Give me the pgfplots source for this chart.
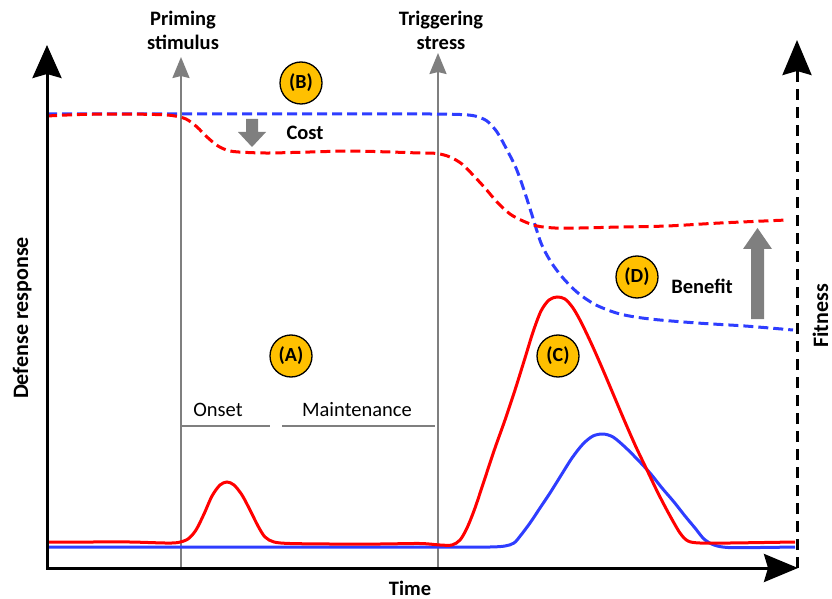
\documentclass[border=0pt]{standalone}
\usepackage{fontspec}
\setmainfont{Carlito}
\usepackage{pgfplots}
\pgfplotsset{compat=1.18}
\usetikzlibrary{arrows.meta}
\definecolor{dred}{HTML}{FF0000}
\definecolor{dblue}{HTML}{2E3DFF}
\definecolor{lgray}{HTML}{7F7F7F}
\definecolor{gold}{HTML}{FFC000}

\begin{document}
\begin{tikzpicture}
\begin{axis}[
    scale only axis,
    width=832pt, height=597pt,
    xmin=0, xmax=832, ymin=0, ymax=597,
    y dir=reverse,
    hide axis,
    clip=false,
]
% frame that fixes the picture size
\addplot[draw=none] coordinates {(0,0) (832,597)};

% gray stimulus lines
\addplot[lgray, line width=2.2pt, -{Stealth[length=21pt,width=17pt,inset=2pt]}] coordinates {(181,568) (181,57)};
\addplot[lgray, line width=2.2pt, -{Stealth[length=21pt,width=17pt,inset=2pt]}] coordinates {(438,568) (438,53)};
% onset / maintenance rulers
\addplot[lgray, line width=1.2pt] coordinates {(181,426) (270,426)};
\addplot[lgray, line width=1.2pt] coordinates {(282,426) (435,426)};

% fitness (dashed)
\addplot[dblue, line width=3pt, dash pattern=on 10pt off 5pt, smooth, tension=0.5] coordinates {
 (47,114) (150,114) (250,114) (350,114) (430,114) (460,114.5) (475,116) (487,121)
 (497,132) (506,148) (516,168) (524,190) (532,215) (541,243) (551,262) (563,278)
 (578,293) (596,305) (620,314) (650,319) (697,323) (745,326) (793,330)};
\addplot[dred, line width=3pt, dash pattern=on 10pt off 5pt, smooth, tension=0.5] coordinates {
 (47,116) (80,114.5) (120,114) (155,114.5) (172,115.5) (186,119) (197,127) (207,137)
 (218,146) (230,151) (248,152.5) (270,153) (310,152) (350,151) (390,152) (420,153)
 (437,153.5) (450,157) (462,164) (473,175) (485,188) (497,202) (510,214) (523,221)
 (537,226) (555,228) (580,228) (620,227) (667,226) (720,223) (787,220)};

% defense response (solid)
\addplot[dblue, line width=3pt, smooth, tension=0.5] coordinates {
 (47,547) (150,547) (250,547) (350,547) (450,547) (490,547) (505,546) (514,543)
 (521,535) (530,523) (540,508) (550,493) (560,477) (572,458) (583,444) (593,436)
 (603,434) (613,437) (625,447) (638,460) (650,473) (662,488) (674,502) (685,516)
 (695,528) (704,539) (714,545) (728,547.5) (760,547.5) (795,547)};
\addplot[dred, line width=3pt, smooth, tension=0.5] coordinates {
 (47,542) (90,542) (130,542) (165,543) (178,542.5) (188,539) (196,530) (204,514)
 (212,496) (220,485) (227,482) (234,485) (242,495) (250,510) (258,526) (265,537)
 (274,542) (290,543.5) (330,544) (380,544) (420,543.5) (440,545) (452,545) (460,540)
 (467,528) (475,508) (485,478) (495,448) (505,420) (515,390) (525,358) (533,332)
 (541,311) (549,300) (557,297) (565,299) (573,308) (581,322) (592,345) (603,370)
 (614,396) (625,422) (636,447) (647,470) (658,493) (669,514) (680,533) (688,541)
 (700,543) (730,543) (795,542)};

% main axes
\addplot[black, line width=3pt, -{Stealth[length=33pt,width=29pt,inset=4pt]}] coordinates {(47,569) (47,45)};
\addplot[black, line width=3pt, -{Stealth[length=34pt,width=28pt,inset=4pt]}] coordinates {(46,568) (798,568)};
\addplot[black, line width=3pt, dash pattern=on 11pt off 7pt] coordinates {(797,568) (797,76)};
\addplot[black, line width=3pt, -{Stealth[length=35pt,width=29pt,inset=4pt]}] coordinates {(797,78) (797,40)};

% cost / benefit block arrows
\addplot[draw=none, fill=lgray] coordinates {
 (246,119) (258,119) (258,132) (266,132) (252,147) (238,132) (246,132)} -- cycle;
\addplot[draw=none, fill=lgray] coordinates {
 (751,319) (764,319) (764,249) (772,249) (757.5,228) (743,249) (751,249)} -- cycle;

% labels
\node[align=center, font=\fontsize{20.5}{24}\selectfont\bfseries] at (axis cs:183,30) {Priming\\stimulus};
\node[align=center, font=\fontsize{20.5}{24}\selectfont\bfseries] at (axis cs:441,30) {Triggering\\stress};
\node[font=\fontsize{20.5}{24}\selectfont\bfseries] at (axis cs:305,133) {Cost};
\node[font=\fontsize{20.5}{24}\selectfont\bfseries] at (axis cs:702,286) {Benefit};
\node[font=\fontsize{20.5}{24}\selectfont] at (axis cs:218,410) {Onset};
\node[font=\fontsize{20.5}{24}\selectfont] at (axis cs:357,410) {Maintenance};
\node[font=\fontsize{20.5}{24}\selectfont\bfseries] at (axis cs:410,588) {Time};
\node[rotate=90, anchor=base, inner sep=0pt, font=\fontsize{22}{24}\selectfont\bfseries] at (axis cs:28,318) {Defense response};
\node[rotate=90, anchor=base, inner sep=0pt, font=\fontsize{22}{24}\selectfont\bfseries] at (axis cs:828,316) {Fitness};

% circled letters
\foreach \lab/\cx/\cy in {B/301/83, A/291/356, C/558/356, D/637/277} {
  \edef\tmp{\noexpand\node[circle, fill=gold, draw=black, line width=1.3pt,
    minimum size=42pt, inner sep=0pt, font=\noexpand\fontsize{20}{24}\noexpand\selectfont\noexpand\bfseries]
    at (axis cs:\cx,\cy) {(\lab)};}
  \tmp
}
\end{axis}
\end{tikzpicture}
\end{document}
